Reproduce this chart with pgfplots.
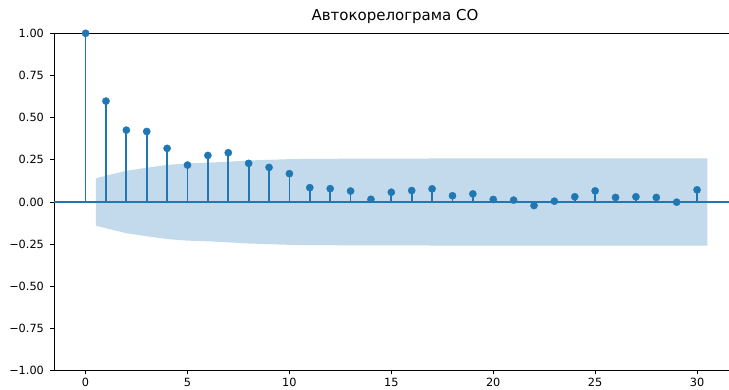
\documentclass[border=0pt]{standalone}
\usepackage{fontspec}
\setmainfont{DejaVu Sans}
\usepackage{pgfplots}
\pgfplotsset{compat=1.18}
\definecolor{C0}{HTML}{1F77B4}
\begin{document}
\begin{tikzpicture}
\begin{axis}[
  at={(54pt,18.3pt)}, anchor=south west, scale only axis,
  width=682pt, height=337.4pt,
  xmin=-1.55, xmax=31.91, ymin=-1, ymax=1,
  axis line style={line width=0.85pt},
  xtick={0,5,10,15,20,25,30},
  xticklabels={0,5,10,15,20,25,30},
  ytick={-1,-0.75,-0.5,-0.25,0,0.25,0.5,0.75,1},
  yticklabels={−1.00,−0.75,−0.50,−0.25,0.00,0.25,0.50,0.75,1.00},
  tick align=outside, xtick pos=bottom, ytick pos=left,
  major tick length=3.7pt, tick style={line width=0.85pt, black},
  ticklabel style={font=\fontsize{11.3}{13}\selectfont, inner sep=0pt},
  yticklabel style={anchor=east, xshift=-6.2pt},
  xticklabel style={anchor=north, yshift=-3.7pt},
  title={Автокорелограма CO},
  title style={font=\fontsize{15}{17}\selectfont, at={(0.5,1)}, anchor=base, yshift=7.2pt, inner sep=0pt},
  clip=false,
]
% stems
\addplot[C0, line width=1.8pt, ycomb, mark=none] coordinates {
(0,1.0) (1,0.598) (2,0.426) (3,0.418) (4,0.318) (5,0.219) (6,0.276) (7,0.292)
(8,0.229) (9,0.205) (10,0.168) (11,0.085) (12,0.079) (13,0.065) (14,0.016)
(15,0.058) (16,0.068) (17,0.078) (18,0.037) (19,0.048) (20,0.015) (21,0.011)
(22,-0.021) (23,0.005) (24,0.031) (25,0.066) (26,0.027) (27,0.031) (28,0.027)
(29,-0.001) (30,0.072)
};
% zero line
\addplot[C0, line width=1.6pt] coordinates {(-1.55,0) (31.91,0)};
% markers
\addplot[only marks, mark=*, mark size=3.6pt, color=C0, mark options={fill=C0, draw=C0}] coordinates {
(0,1.0) (1,0.598) (2,0.426) (3,0.418) (4,0.318) (5,0.219) (6,0.276) (7,0.292)
(8,0.229) (9,0.205) (10,0.168) (11,0.085) (12,0.079) (13,0.065) (14,0.016)
(15,0.058) (16,0.068) (17,0.078) (18,0.037) (19,0.048) (20,0.015) (21,0.011)
(22,-0.021) (23,0.005) (24,0.031) (25,0.066) (26,0.027) (27,0.031) (28,0.027)
(29,-0.001) (30,0.072)
};
% confidence band
\addplot[draw=none, fill=C0, fill opacity=0.27] coordinates {
(0.5,0.141) (2,0.185) (3,0.203) (4,0.220) (5,0.229) (6,0.233) (7,0.239) (8,0.246)
(9,0.250) (10,0.254) (11,0.256) (12,0.256) (13,0.257) (14,0.257) (15,0.257)
(16,0.257) (17,0.258) (18,0.258) (19,0.258) (20,0.258) (21,0.258) (22,0.258)
(23,0.258) (24,0.258) (25,0.258) (26,0.259) (27,0.259) (28,0.259) (29,0.259) (30.5,0.259)
(30.5,-0.259) (29,-0.259) (28,-0.259) (27,-0.259) (26,-0.259) (25,-0.258) (24,-0.258)
(23,-0.258) (22,-0.258) (21,-0.258) (20,-0.258) (19,-0.258) (18,-0.258) (17,-0.258)
(16,-0.257) (15,-0.257) (14,-0.257) (13,-0.257) (12,-0.256) (11,-0.256) (10,-0.254)
(9,-0.250) (8,-0.246) (7,-0.239) (6,-0.233) (5,-0.229) (4,-0.220) (3,-0.203) (2,-0.185) (0.5,-0.141)
};
\end{axis}
\pgfresetboundingbox
\useasboundingbox (0,0) rectangle (729pt,389pt);
\end{tikzpicture}
\end{document}
